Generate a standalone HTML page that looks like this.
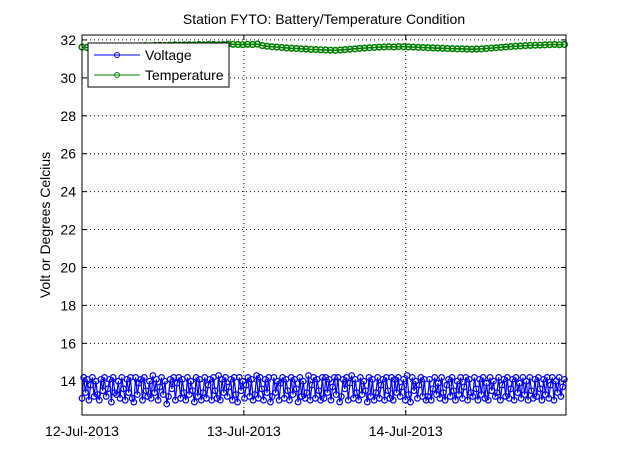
<!DOCTYPE html>
<html><head><meta charset="utf-8"><style>
body{margin:0;background:#fff;font-family:"Liberation Sans",sans-serif}
</style></head><body>
<svg id="c" width="623" height="466" xmlns="http://www.w3.org/2000/svg" font-family="Liberation Sans, sans-serif"></svg>
<script>
const yTicks=[14,16,18,20,22,24,26,28,30,32];
const xTicks=[0,1,2];
const xTickLabels=["12-Jul-2013","13-Jul-2013","14-Jul-2013"];
const voltage=[
13.1,14.2,13.4,14.1,13.0,13.8,14.2,13.2,14.0,13.3,
13.0,14.1,13.5,14.2,13.2,13.6,14.1,12.9,14.2,13.4,
13.3,14.0,13.1,14.2,13.6,13.0,14.1,13.4,14.2,13.1,
12.9,14.2,13.3,13.9,14.1,13.0,14.2,13.5,13.2,14.0,
13.1,14.3,13.4,14.1,13.0,13.7,14.2,13.3,14.0,12.8,
13.2,14.1,13.6,14.2,13.0,13.9,14.2,13.1,14.1,13.4,
13.0,14.2,13.3,14.0,13.5,12.9,14.2,13.2,14.1,13.0,
13.4,14.2,13.1,13.8,14.1,13.0,14.2,13.5,13.1,14.3,
13.0,14.1,13.4,14.2,13.2,13.7,14.1,13.0,14.2,13.3,
12.9,14.2,13.5,14.0,13.1,13.8,14.2,13.2,14.1,13.0,
13.3,14.3,13.1,14.2,13.6,13.0,14.1,13.4,14.2,12.9,
13.2,14.2,13.4,14.0,13.0,13.9,14.2,13.1,14.1,13.5,
13.0,14.2,13.3,14.1,13.6,12.9,14.2,13.2,14.0,13.1,
13.4,14.3,13.0,13.8,14.2,13.1,14.1,13.5,13.0,14.2,
13.1,14.2,13.4,14.1,13.0,13.7,14.2,13.3,14.2,12.9,
13.2,14.1,13.6,14.2,13.0,13.9,14.3,13.1,14.1,13.4,
13.0,14.2,13.3,14.0,13.5,12.9,14.2,13.2,14.1,13.0,
13.4,14.2,13.1,13.8,14.1,13.0,14.2,13.5,13.1,14.2,
13.0,14.1,13.4,14.2,13.2,13.7,14.1,13.0,14.3,13.3,
12.9,14.2,13.5,14.0,13.1,13.8,14.2,13.2,14.1,13.0,
13.2,14.1,13.0,13.6,14.2,13.3,13.9,13.1,14.2,13.4,
13.0,13.8,14.1,13.2,14.2,13.5,13.0,14.0,13.3,14.2,
13.1,13.7,14.2,13.0,14.1,13.4,13.2,14.2,13.6,13.0,
14.1,13.3,14.2,13.1,13.9,13.0,14.2,13.5,14.0,13.2,
13.4,14.2,13.0,13.8,14.1,13.2,14.2,13.1,13.6,14.1,
13.0,14.2,13.4,13.9,13.1,14.2,13.3,14.0,13.0,14.2,
13.5,13.1,14.1,13.2,14.2,13.6,13.0,14.1,13.3,14.2,
13.1,13.8,14.2,13.0,14.0,13.4,14.2,13.2,13.7,14.1];
const temperature=[
31.62,31.60,31.61,31.63,31.64,31.63,31.65,31.66,31.65,31.67,
31.68,31.67,31.69,31.70,31.69,31.71,31.72,31.71,31.73,31.74,
31.73,31.74,31.75,31.74,31.76,31.75,31.77,31.76,31.75,31.76,
31.78,31.77,31.76,31.75,31.77,31.76,31.78,31.70,31.67,31.64,
31.62,31.60,31.58,31.56,31.55,31.53,31.52,31.50,31.49,31.48,
31.47,31.46,31.45,31.47,31.49,31.51,31.53,31.55,31.57,31.59,
31.60,31.62,31.63,31.64,31.63,31.65,31.64,31.63,31.62,31.61,
31.60,31.59,31.58,31.57,31.56,31.55,31.54,31.53,31.53,31.52,
31.51,31.52,31.53,31.55,31.57,31.59,31.61,31.63,31.65,31.67,
31.68,31.70,31.71,31.72,31.73,31.74,31.75,31.76,31.75,31.76];
const NS="http://www.w3.org/2000/svg";
const svg=document.getElementById('c');
const L=82,R=566,T=35,B=415,xMax=2.99,yMin=12.22,yMax=32.26;
const xs=v=>L+v/xMax*(R-L);
const ys=v=>B-(v-yMin)/(yMax-yMin)*(B-T);
function el(t,a,p){const e=document.createElementNS(NS,t);for(const k in a)e.setAttribute(k,a[k]);(p||svg).appendChild(e);return e;}
yTicks.forEach((v,i)=>{
 const g=el('line',{x1:L,x2:R,y1:ys(v),y2:ys(v),stroke:'#000','stroke-dasharray':'1,3','stroke-width':1});
 
 
 el('line',{x1:L,x2:L+5,y1:ys(v),y2:ys(v),stroke:'#000'});
 el('line',{x1:R-5,x2:R,y1:ys(v),y2:ys(v),stroke:'#000'});
 const t=el('text',{x:L-6,y:ys(v)+5,'text-anchor':'end','font-size':14});t.textContent=v;
 
 
});
xTicks.forEach((v,i)=>{
 if(v>0){const g=el('line',{x1:xs(v),x2:xs(v),y1:T,y2:B,stroke:'#000','stroke-dasharray':'1,3'});
 
 }
 el('line',{x1:xs(v),x2:xs(v),y1:B,y2:B-5,stroke:'#000'});
 el('line',{x1:xs(v),x2:xs(v),y1:T,y2:T+5,stroke:'#000'});
 const t=el('text',{x:xs(v),y:B+21,'text-anchor':'middle','font-size':14});t.textContent=xTickLabels[i];
 
 
});
function series(data,color,name,r,sw){
 const g=el('g',{});
 
 
 const n=data.length;const pts=data.map((v,i)=>[xs(i/(n-1)*(xMax-0.01)),ys(v)]);
 el('polyline',{points:pts.map(p=>p.join(',')).join(' '),fill:'none',stroke:color,'stroke-width':sw},g);
 pts.forEach(p=>el('circle',{cx:p[0],cy:p[1],r:r,fill:'none',stroke:color,'stroke-width':sw},g));
}
series(voltage,'#0000ff','voltage-series',2.8,1.2);
series(temperature,'#008000','temperature-series',2.8,1.6);
const box=el('rect',{x:L,y:T,width:R-L,height:B-T,fill:'none',stroke:'#000'});


const title=el('text',{x:324,y:24,'text-anchor':'middle','font-size':14});title.textContent='Station FYTO: Battery/Temperature Condition';


const yl=el('text',{x:0,y:0,'text-anchor':'middle','font-size':14,transform:'translate(50,225) rotate(-90)'});yl.textContent='Volt or Degrees Celcius';


const lg=el('g',{});


el('rect',{x:88,y:43,width:141,height:44,fill:'#fff',stroke:'#000'},lg);
[['Voltage','#0000ff',55],['Temperature','#008000',75]].forEach(([n,c,y])=>{
 el('line',{x1:94,x2:140,y1:y,y2:y,stroke:c},lg);
 el('circle',{cx:117,cy:y,r:2.5,fill:'none',stroke:c},lg);
 const t=el('text',{x:145,y:y+5,'font-size':14},lg);t.textContent=n;
 
 
});
</script>
</body></html>
